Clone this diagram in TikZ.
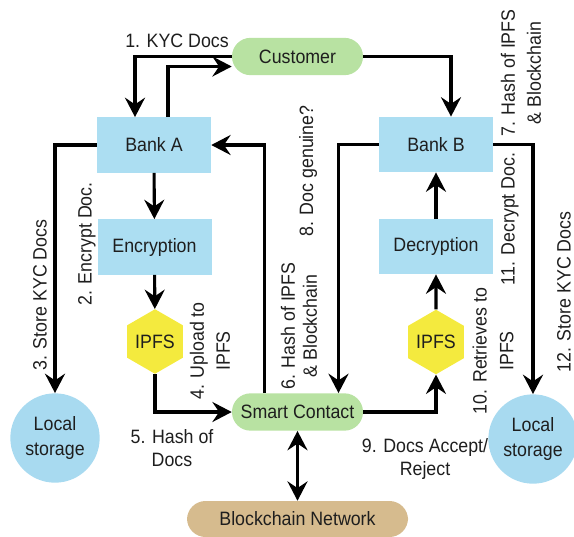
\documentclass[tikz,border=0pt]{standalone}
\usepackage{fontspec}
\setmainfont{Liberation Sans}[FakeStretch=0.92]
\usetikzlibrary{arrows.meta,shapes.geometric,calc}
\definecolor{boxblue}{RGB}{172,222,242}
\definecolor{storeblue}{RGB}{168,218,240}
\definecolor{pillgreen}{RGB}{184,226,162}
\definecolor{hexyellow}{RGB}{244,234,62}
\definecolor{tan}{RGB}{214,187,142}
\definecolor{textcol}{RGB}{30,30,30}
\begin{document}
\begin{tikzpicture}[x=0.75pt,y=-0.75pt,
  font=\fontsize{14.5}{17}\selectfont, text=textcol,
  tip/.tip={Stealth[length=14.5pt,width=15pt,inset=5pt]},
  arr/.style={draw=black, line width=2.3pt, -tip},
  darr/.style={draw=black, line width=2.3pt, tip-tip},
  box/.style={rectangle, fill=boxblue, minimum width=85.5pt, minimum height=41.5pt, inner sep=0pt},
  pill/.style={rectangle, rounded corners=13.9pt, fill=pillgreen, minimum width=98.25pt, minimum height=28pt, inner sep=0pt},
  hex/.style={regular polygon, regular polygon sides=6, shape border rotate=30, fill=hexyellow, minimum size=45pt, inner sep=0pt},
  store/.style={circle, fill=storeblue, minimum size=67pt, inner sep=0pt, align=center, font=\fontsize{14.5}{19}\selectfont},
  lbl/.style={align=center, inner sep=0pt},
  rlbl/.style={lbl, rotate=90}]
\useasboundingbox (0,0) rectangle (574,536);

% nodes
\node[pill] (cust) at (297.5,56.5) {Customer};
\node[box] (bankA) at (154,145) {Bank A};
\node[box] (enc) at (154.5,247) {Encryption};
\node[hex] (ipfsA) at (155,341.5) {IPFS};
\node[store] (lsA) at (55,438) {Local\\storage};
\node[pill] (sc) at (297.5,412) {Smart Contact};
\node[box] (bankB) at (436,144.5) {Bank B};
\node[box] (dec) at (436,246.5) {Decryption};
\node[hex] (ipfsB) at (436,342) {IPFS};
\node[store] (lsB) at (533,439) {Local\\storage};
\node[pill, fill=tan, minimum width=165.75pt, minimum height=27pt] (bc) at (297.5,519) {Blockchain Network};

% connectors
\draw[arr] (cust.west) -| ($(bankA.north)+(-19,0)$);
\draw[arr] ($(bankA.north)+(14,0)$) |- ($(cust.west)+(0,10)$);
\draw[arr] (cust.east) -| ($(bankB.north)+(15,0)$);
\draw[arr] (bankA) -- (enc);
\draw[arr] (enc) -- (ipfsA);
\draw[arr] (bankA.west) -| (lsA.north);
\draw[arr] (ipfsA) |- (sc.west);
\draw[arr] ($(sc.north)+(-33,0)$) |- (bankA.east);
\draw[arr] (bankB.west) -| ($(sc.north)+(41,0)$);
\draw[arr] (sc.east) -| (ipfsB);
\draw[arr] (ipfsB) -- (dec);
\draw[arr] (dec) -- (bankB);
\draw[arr] (bankB.east) -| (lsB.north);
\draw[darr] (sc) -- (bc);

% labels
\node[lbl] (l1) at (177,41) {1. KYC Docs};
\node[rlbl] (l2) at (87,244) {2. Encrypt Doc.};
\node[rlbl] (l3) at (40,295) {3. Store KYC Docs};
\node[rlbl, font=\fontsize{14.5}{19.5}\selectfont] (l4) at (210,351) {4. Upload to\\IPFS};
\node[lbl, font=\fontsize{14.5}{17.5}\selectfont] (l5) at (172,448) {5. Hash of\\Docs};
\node[rlbl, font=\fontsize{14.5}{16.5}\selectfont] (l6) at (299,326) {6. Hash of IPFS\\\& Blockchain};
\node[rlbl, font=\fontsize{14.5}{19.5}\selectfont] (l7) at (521,73) {7. Hash of IPFS\\\& Blockchain};
\node[rlbl] (l8) at (308,171) {8. Doc genuine?};
\node[lbl, font=\fontsize{14.5}{17}\selectfont] (l9) at (425,459) {9. Docs Accept/\\Reject};
\node[rlbl, font=\fontsize{14.5}{20}\selectfont] (l10) at (493,351) {10. Retrieves to\\IPFS};
\node[rlbl] (l11) at (510,219) {11. Decrypt Doc.};
\node[rlbl] (l12) at (564,292) {12. Store KYC Docs};
\end{tikzpicture}
\end{document}
